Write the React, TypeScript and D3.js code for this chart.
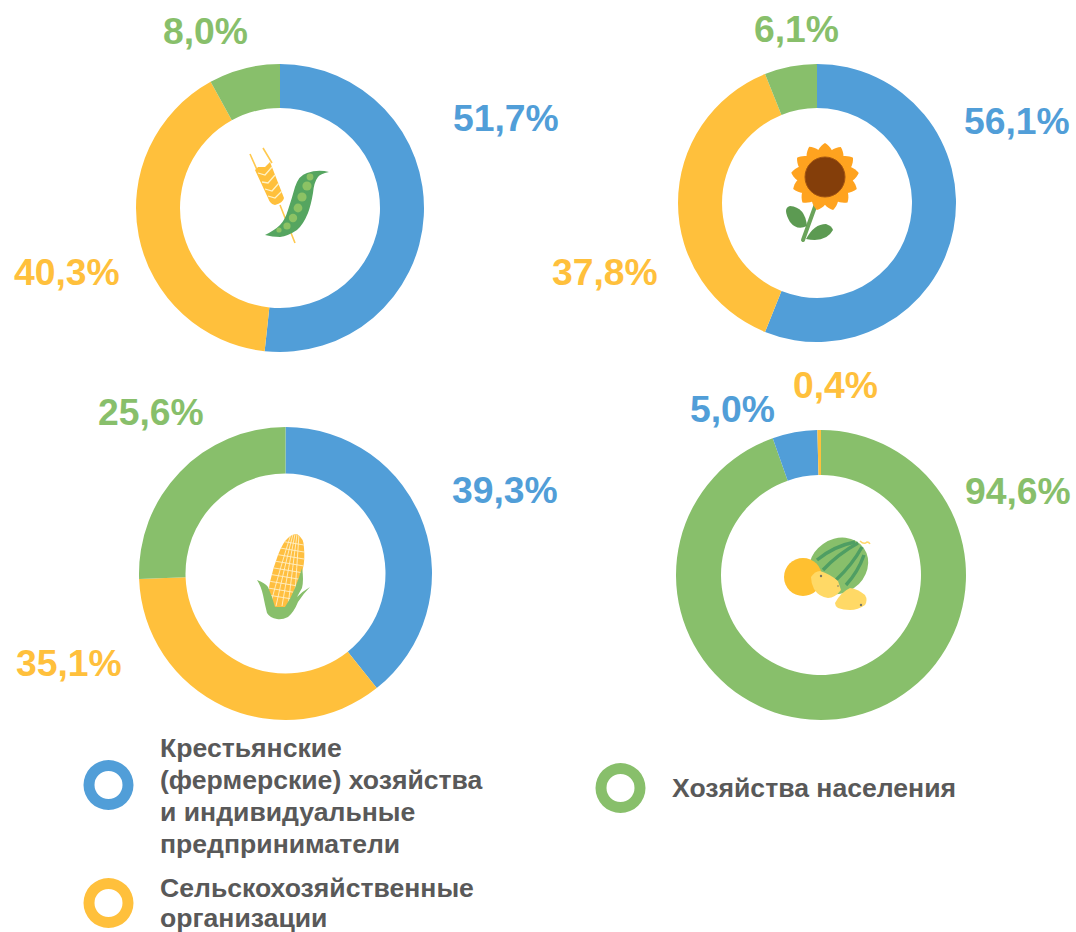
import React from "react";
import * as d3 from "d3";

const BLUE = "#519ed8";
const YELLOW = "#ffc03c";
const GREEN = "#88bf6b";
const GREY = "#595959";

const grainValues = [51.7, 40.3, 8.0];
const sunValues = [56.1, 37.8, 6.1];
const cornValues = [39.3, 35.1, 25.6];
const melonValues = [94.6, 5.0, 0.4];
const standardColors = [BLUE, YELLOW, GREEN];
const melonColors = [GREEN, BLUE, YELLOW];

const grainLabels = ["51,7%", "40,3%", "8,0%"];
const sunLabels = ["56,1%", "37,8%", "6,1%"];
const cornLabels = ["39,3%", "35,1%", "25,6%"];
const melonLabels = ["94,6%", "5,0%", "0,4%"];

const legendFarmers = ["Крестьянские", "(фермерские) хозяйства", "и индивидуальные", "предприниматели"];
const legendOrganisations = ["Сельскохозяйственные", "организации"];
const legendHouseholds = ["Хозяйства населения"];

function Donut({ values, colors, cx, cy, R, r }: { values: number[]; colors: string[]; cx: number; cy: number; R: number; r: number }) {
  const pie = d3.pie<number>().sort(null).value((d) => d);
  const arc = d3.arc<d3.PieArcDatum<number>>().innerRadius(r).outerRadius(R);
  return (
    <g transform={`translate(${cx},${cy})`}>
      {pie(values).map((d, i) => (
        <path key={i} d={arc(d) ?? ""} fill={colors[i]} />
      ))}
    </g>
  );
}

function Label({ x, y, color, text }: { x: number; y: number; color: string; text: string }) {
  return (
    <text x={x} y={y} fill={color} fontFamily="'Liberation Sans', Arial, sans-serif" fontWeight="bold" fontSize={37.3}>
      {text}
    </text>
  );
}

function GrainIcon() {
  const peas: [number, number, number][] = [[310, 177, 3.4], [307, 186, 4.6], [302, 197, 4.6], [298, 208, 4.4], [293, 218, 4.2], [287, 226, 3.6], [279, 230, 2.6]];
  return (
    <g>
      <path d="M250 154 L258 172 M263 148 L272 163 M280 205 L295 243" stroke="#ffc94f" strokeWidth="1.6" fill="none" />
      <path d="M255 170 L258 167 L265 167 L270 162 L284 198 Q283 203 275 205 Q270 204 268 198 Z" fill="#ffc03c" />
      <path d="M258 173 L265 175 L272 167 M262 182 L268 183 L275 175 M265 189 L272 191 L279 183 M268 196 L275 198 L282 191" stroke="#fff3c8" strokeWidth="1.3" fill="none" />
      <path d="M265 235 Q275 230 280 225 Q285 220 288 210 Q292 198 295 187 Q299 175 307 173 Q318 169 329 172 Q320 174 318 177 Q314 182 313 193 Q311 205 308 213 Q303 225 297 230 Q288 236 280 237 Q272 237 265 235 Z" fill="#55a560" />
      {peas.map((p, i) => (
        <circle key={i} cx={p[0]} cy={p[1]} r={p[2]} fill="#8cc264" />
      ))}
    </g>
  );
}

function SunflowerIcon() {
  const petalAngles = [0, 27.7, 55.4, 83.1, 110.8, 138.5, 166.2, 193.9, 221.6, 249.3, 277, 304.7, 332.4];
  return (
    <g>
      <path d="M816 204 L803 240" stroke="#6aa35a" strokeWidth="4" strokeLinecap="round" />
      <path d="M807 226 Q805 207 790 206 Q782 208 790 222 Q797 231 807 226 Z" fill="#5c9a52" />
      <path d="M806 239 Q814 224 826 224 Q832 226 833 230 Q826 243 806 239 Z" fill="#5c9a52" />
      {petalAngles.map((a) => (
        <path key={a} d="M-8 -13 C-11 -24 -5 -31 0 -34 C5 -31 11 -24 8 -13 Z" transform={`translate(825,177) rotate(${a})`} fill="#ffa31f" />
      ))}
      <circle cx="825" cy="177" r="20" fill="#843e0a" stroke="#a35512" strokeWidth="1" />
    </g>
  );
}

function CornIcon() {
  const rows = [0, 1, 2, 3, 4, 5, 6, 7, 8];
  const cols = [0, 1, 2, 3, 4];
  const cobPath = "M297 534 Q304 538 304 548 Q305 560 303 568 Q300 585 295 598 L288 612 L272 612 Q267 592 270 582 Q273 568 278 555 Q283 542 288 538 Q292 534 297 534 Z";
  return (
    <g>
      <clipPath id="cob">
        <path d={cobPath} />
      </clipPath>
      <path d={cobPath} fill="#ffbf40" />
      <g stroke="#fff0c8" strokeWidth="0.9" fill="none" clipPath="url(#cob)">
        {rows.map((i) => (
          <path key={`h${i}`} d={`M262 ${594 - i * 7} L310 ${602 - i * 7}`} />
        ))}
        {cols.map((i) => (
          <path key={`v${i}`} d={`M${270 + i * 6} 606 Q${281 + i * 4} 565 ${291 + i * 2} 534`} />
        ))}
      </g>
      <path d="M257 580 Q265 583 268 587 Q272 596 275 607 L285 607 Q291 598 295 588 Q299 578 302 568 Q304 580 302 588 L297 597 Q303 591 310 587 Q303 594 298 602 Q294 612 288 617 Q282 620 277 619 Q270 618 267 613 Q265 605 263 595 Q261 586 257 580 Z" fill="#88bf6b" />
    </g>
  );
}

function MelonIcon() {
  return (
    <g>
      <path d="M860 541 Q864 545 867 542 Q869 542 870 544" stroke="#ffd76a" strokeWidth="1.5" fill="none" />
      <ellipse cx="838.5" cy="566" rx="31" ry="27" transform="rotate(-35 838.5 566)" fill="#88bf6b" />
      <g stroke="#4f9e63" strokeWidth="3.4" fill="none">
        <path d="M855 542 Q834 546 817 560" />
        <path d="M858 543 Q838 554 823 570" />
        <path d="M862 547 Q852 565 836 580" />
        <path d="M864 555 Q858 572 846 585" />
      </g>
      <circle cx="803" cy="577" r="19" fill="#ffc030" />
      <path d="M811 577 Q815 571 820 571 Q830 574 838 581 L841 590 Q835 598 828 598 Q819 597 814 589 Q811 583 811 577 Z" fill="#ffd966" />
      <path d="M835 603 Q841 592 850 588 Q858 589 865 595 Q868 600 865 605 Q858 610 850 610 Q843 610 838 608 Q835 606 835 603 Z" fill="#ffd966" />
      <circle cx="821" cy="576" r="1.2" fill="#776" />
      <circle cx="838" cy="586" r="0.8" fill="#776" />
      <circle cx="861" cy="605" r="1.2" fill="#776" />
    </g>
  );
}

function LegendRing({ cx, cy, color }: { cx: number; cy: number; color: string }) {
  const arc = d3.arc()({ innerRadius: 14, outerRadius: 25, startAngle: 0, endAngle: 2 * Math.PI }) ?? "";
  return <path d={arc} transform={`translate(${cx},${cy})`} fill={color} />;
}

function LegendText({ lines, x, y, gap }: { lines: string[]; x: number; y: number; gap: number }) {
  return (
    <text fill={GREY} fontFamily="'Liberation Sans', Arial, sans-serif" fontWeight="bold" fontSize={26.6}>
      {lines.map((l, i) => (
        <tspan key={i} x={x} y={y + i * gap}>{l}</tspan>
      ))}
    </text>
  );
}

export default function App() {
  return (
    <svg width={1076} height={932} style={{ position: "absolute", left: 0, top: 0 }}>
      <rect width={1076} height={932} fill="#ffffff" />
      <Donut values={grainValues} colors={standardColors} cx={280} cy={208} R={144} r={100} />
      <Donut values={sunValues} colors={standardColors} cx={817} cy={203} R={139} r={95} />
      <Donut values={cornValues} colors={standardColors} cx={285.5} cy={573.5} R={146.5} r={100} />
      <Donut values={melonValues} colors={melonColors} cx={821} cy={575} R={145} r={100} />

      <GrainIcon />
      <SunflowerIcon />
      <CornIcon />
      <MelonIcon />

      <Label x={453} y={131} color={BLUE} text={grainLabels[0]} />
      <Label x={14} y={285} color={YELLOW} text={grainLabels[1]} />
      <Label x={163} y={44} color={GREEN} text={grainLabels[2]} />

      <Label x={964} y={134} color={BLUE} text={sunLabels[0]} />
      <Label x={552} y={285} color={YELLOW} text={sunLabels[1]} />
      <Label x={754} y={42} color={GREEN} text={sunLabels[2]} />

      <Label x={452} y={503} color={BLUE} text={cornLabels[0]} />
      <Label x={16} y={676} color={YELLOW} text={cornLabels[1]} />
      <Label x={98} y={425} color={GREEN} text={cornLabels[2]} />

      <Label x={965} y={504} color={GREEN} text={melonLabels[0]} />
      <Label x={690} y={422} color={BLUE} text={melonLabels[1]} />
      <Label x={793} y={398} color={YELLOW} text={melonLabels[2]} />

      <LegendRing cx={108.5} cy={785} color={BLUE} />
      <LegendText lines={legendFarmers} x={160} y={757} gap={32} />
      <LegendRing cx={108.5} cy={903} color={YELLOW} />
      <LegendText lines={legendOrganisations} x={160} y={897} gap={29.5} />
      <LegendRing cx={620.5} cy={788} color={GREEN} />
      <LegendText lines={legendHouseholds} x={672} y={797} gap={32} />
    </svg>
  );
}
